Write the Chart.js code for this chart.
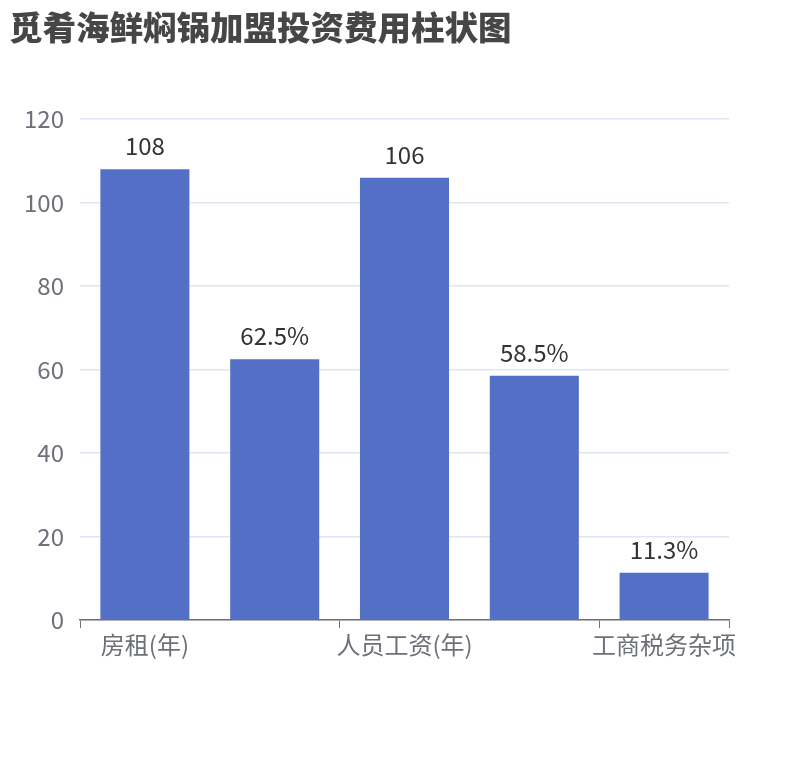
<!DOCTYPE html>
<html>
<head>
<meta charset="utf-8">
<script src="https://cdn.jsdelivr.net/npm/chart.js@4"></script>
<style>
  body { margin: 0; background: #fff; }
  #wrap { width: 810px; height: 760px; position: relative; }
</style>
</head>
<body>
<div id="wrap"><canvas id="myCost"></canvas></div>
<script>
const categories = ['房租(年)', '装修费用', '人员工资(年)', '设备费用', '工商税务杂项'];
const costValues = [108, 62.5, 106, 58.5, 11.3];
const valueLabels = ['108', '62.5%', '106', '58.5%', '11.3%'];
const yTicks = [0, 20, 40, 60, 80, 100, 120];

const FONT = '"Noto Sans CJK SC", "Noto Sans", sans-serif';

// draws the number above each bar
const barValues = {
  id: 'barValues',
  afterDatasetsDraw(chart) {
    const ctx = chart.ctx;
    const meta = chart.getDatasetMeta(0);
    ctx.save();
    ctx.font = '24px ' + FONT;
    ctx.fillStyle = '#333';
    ctx.textAlign = 'center';
    ctx.textBaseline = 'alphabetic';
    meta.data.forEach((bar, i) => {
      ctx.fillText(valueLabels[i], bar.x, bar.y - 14);
    });
    ctx.restore();
  }
};

const myCost = document.getElementById('myCost');

new Chart(myCost, {
  type: 'bar',
  data: {
    labels: categories,
    datasets: [{
      data: costValues,
      backgroundColor: '#5470c6',
      barPercentage: 0.686,
      categoryPercentage: 1
    }]
  },
  options: {
    responsive: true,
    maintainAspectRatio: false,
    animation: false,
    layout: { padding: { left: 9, right: 81, top: 0, bottom: 0 } },
    plugins: {
      legend: { display: false },
      tooltip: { enabled: false },
      title: {
        display: true,
        text: '觅肴海鲜焖锅加盟投资费用柱状图',
        align: 'start',
        color: '#464646',
        font: { family: FONT, size: 33.5, weight: 900, lineHeight: 1.2 },
        padding: { top: 7, bottom: 72 }
      }
    },
    scales: {
      x: {
        afterFit(scale) { scale.height = 140; },
        border: { display: true, color: '#6e7079', width: 1.5 },
        grid: {
          offset: true,
          drawOnChartArea: false,
          drawTicks: true,
          tickLength: 8,
          tickColor: (c) => (c.index === undefined || c.index % 2 === 0) ? '#6e7079' : 'rgba(0,0,0,0)'
        },
        ticks: {
          autoSkip: false,
          maxRotation: 0,
          padding: 2,
          color: '#6e7079',
          font: { family: FONT, size: 24 },
          callback: (v, i) => i % 2 === 0 ? categories[i] : ''
        }
      },
      y: {
        min: 0,
        max: 120,
        afterFit(scale) { scale.width = 71; },
        afterBuildTicks(scale) { scale.ticks = yTicks.map(v => ({ value: v })); },
        border: { display: false },
        grid: { color: '#e0e6f1', lineWidth: 1.5, drawTicks: false },
        ticks: {
          padding: 16,
          color: '#6e7079',
          font: { family: FONT, size: 24 }
        }
      }
    }
  },
  plugins: [barValues]
});
</script>
</body>
</html>
